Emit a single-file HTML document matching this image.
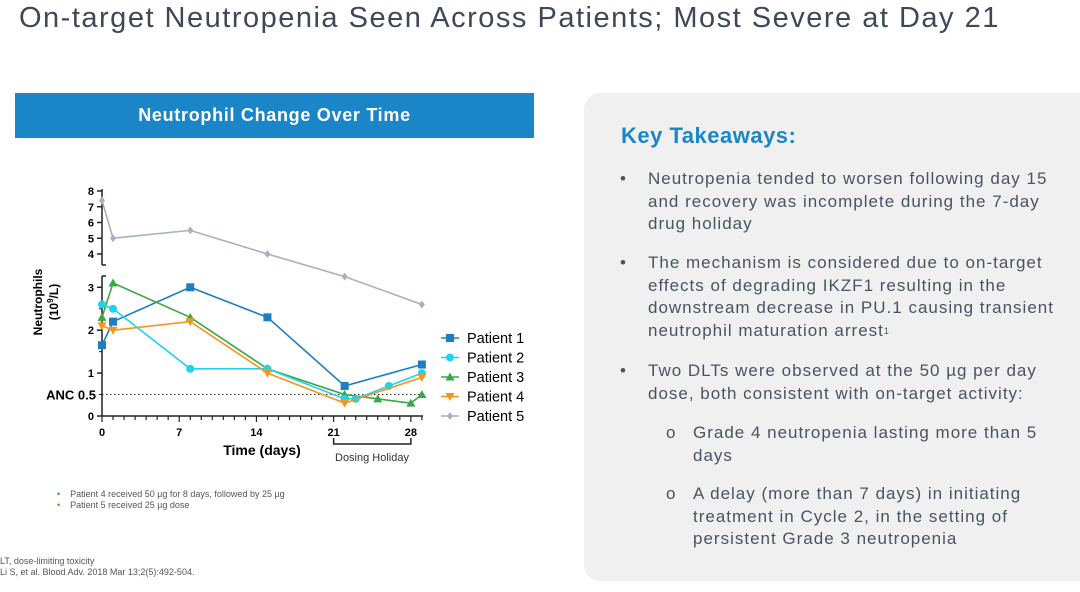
<!DOCTYPE html>
<html><head><meta charset="utf-8">
<style>
body{margin:0;width:1080px;height:592px;background:#fff;position:relative;overflow:hidden;font-family:"Liberation Sans",sans-serif}
.a{position:absolute;white-space:nowrap}
.t{font-size:17px;color:#4a5263;line-height:22.5px;letter-spacing:1px}
sup{font-size:9px;line-height:0;position:relative;top:-2px;vertical-align:baseline}
</style></head><body>
<div class="a" style="left:19px;top:2px;font-size:29px;color:#3f4858;letter-spacing:1.5px">On-target Neutropenia Seen Across Patients; Most Severe at Day 21</div>
<div class="a" style="left:15px;top:93px;width:519px;height:45px;background:#1a86c8;color:#fff;font-weight:bold;font-size:18px;line-height:45px;text-align:center;letter-spacing:0.7px">Neutrophil Change Over Time</div>
<div style="position:absolute;left:584px;top:93px;width:520px;height:488px;background:#f0f0f0;border-radius:16px"></div>
<div class="a" style="left:621px;top:123px;font-size:22px;font-weight:bold;color:#1a86c8;letter-spacing:0.5px">Key Takeaways:</div>
<div class="a t" style="left:620px;top:168px">•<span style="position:absolute;left:28px">Neutropenia tended to worsen following day 15<br>and recovery was incomplete during the 7-day<br>drug holiday</span></div>
<div class="a t" style="left:620px;top:252px">•<span style="position:absolute;left:28px">The mechanism is considered due to on-target<br>effects of degrading IKZF1 resulting in the<br>downstream decrease in PU.1 causing transient<br>neutrophil maturation arrest<sup>1</sup></span></div>
<div class="a t" style="left:620px;top:360px">•<span style="position:absolute;left:28px">Two DLTs were observed at the 50 µg per day<br>dose, both consistent with on-target activity:</span></div>
<div class="a t" style="left:666px;top:422px">o<span style="position:absolute;left:27px">Grade 4 neutropenia lasting more than 5<br>days</span></div>
<div class="a t" style="left:666px;top:483px">o<span style="position:absolute;left:27px">A delay (more than 7 days) in initiating<br>treatment in Cycle 2, in the setting of<br>persistent Grade 3 neutropenia</span></div>
<div class="a" style="left:57px;top:489px;font-size:9px;color:#555;line-height:10.5px"><span style="color:#3a3">•</span>&nbsp;&nbsp;&nbsp;&nbsp;Patient 4 received 50 µg for 8 days, followed by 25 µg<br><span style="color:#3a3">•</span>&nbsp;&nbsp;&nbsp;&nbsp;Patient 5 received 25 µg dose</div>
<div class="a" style="left:0px;top:556px;font-size:9px;color:#555;line-height:10.5px">LT, dose-limiting toxicity<br>Li S, et al. Blood Adv. 2018 Mar 13;2(5):492-504.</div>
<svg id="chart" width="1080" height="592" style="position:absolute;left:0;top:0" font-family="Liberation Sans, sans-serif"></svg>
<script>
const patients=["Patient 1","Patient 2","Patient 3","Patient 4","Patient 5"];
const colors=["#1b7fc0","#1fd3ee","#3aa845","#f7941d","#a8b0c4"];
const days1=[0,1,8,15,22,29];const vals1=[1.65,2.2,3.0,2.3,0.7,1.2];
const days2=[0,1,8,15,22,23,26,29];const vals2=[2.6,2.5,1.1,1.1,0.4,0.4,0.7,1.0];
const days3=[0,1,8,15,22,25,28,29];const vals3=[2.3,3.1,2.3,1.1,0.5,0.4,0.3,0.5];
const days4=[0,1,8,15,22,29];const vals4=[2.1,2.0,2.2,1.0,0.3,0.9];
const days5=[0,1,8,15,22,29];const vals5=[7.4,5.0,5.5,4.0,3.25,2.6];
const lowTicks=[0,1,2,3];const upTicks=[4,5,6,7,8];const xTicks=[0,7,14,21,28];
const NS="http://www.w3.org/2000/svg";const svg=document.getElementById('chart');
function X(d){return 102+d*11.03;}
function Y(v){return v>3.3?254-(v-4)*15.75:416-v*42.9;}
function el(t,a,p){const e=document.createElementNS(NS,t);for(const k in a)e.setAttribute(k,a[k]);(p||svg).appendChild(e);return e;}
function txt(s,a){const e=el('text',a);e.textContent=s;return e;}
let g=el('g',{});


el('line',{x1:102,y1:416,x2:102,y2:276,stroke:'#222','stroke-width':1.5},g);
el('line',{x1:102,y1:265,x2:102,y2:189,stroke:'#222','stroke-width':1.5},g);
el('line',{x1:102,y1:276,x2:106,y2:276,stroke:'#222','stroke-width':1.5},g);
el('line',{x1:102,y1:265,x2:106,y2:265,stroke:'#222','stroke-width':1.5},g);
lowTicks.concat(upTicks).forEach(v=>{el('line',{x1:97,y1:Y(v),x2:102,y2:Y(v),stroke:'#222','stroke-width':1.5},g);
const t=txt(v,{x:94,y:Y(v)+4,'text-anchor':'end','font-size':11,'font-weight':'bold'});});
[0.5,1.5,2.5].forEach(v=>el('line',{x1:99,y1:Y(v),x2:102,y2:Y(v),stroke:'#222'},g));
g=el('g',{});


el('line',{x1:102,y1:416,x2:423,y2:416,stroke:'#222','stroke-width':1.5},g);
for(let d=0;d<=29;d++)el('line',{x1:X(d),y1:416,x2:X(d),y2:xTicks.includes(d)?422:420,stroke:'#222','stroke-width':1.2},g);
xTicks.forEach(d=>{const t=txt(d,{x:X(d),y:436,'text-anchor':'middle','font-size':11,'font-weight':'bold'});});
let t=txt('Time (days)',{x:262,y:455,'text-anchor':'middle','font-size':14,'font-weight':'bold'});


t=el('text',{transform:'translate(42,302) rotate(-90)','text-anchor':'middle','font-size':12,'font-weight':'bold'});
t.innerHTML='<tspan x="0" y="0">Neutrophils</tspan><tspan x="0" y="16">(10<tspan font-size="8" dy="-5">9</tspan><tspan dy="5">/L)</tspan></tspan>';


t=el('path',{d:`M${X(21)} 438 V444 H${X(28)} V438`,fill:'none',stroke:'#222','stroke-width':1.5});


t=txt('Dosing Holiday',{x:372,y:461,'text-anchor':'middle','font-size':11,fill:'#333'});


t=el('line',{x1:102,y1:Y(0.5),x2:423,y2:Y(0.5),stroke:'#333','stroke-dasharray':'1.5 2.5'});


t=txt('ANC 0.5',{x:96,y:Y(0.5)+5,'text-anchor':'end','font-size':13,'font-weight':'bold'});


function marker(i,x,y,p){const c=colors[i];
if(i==0)return el('rect',{x:x-4,y:y-4,width:8,height:8,fill:c},p);
if(i==1)return el('circle',{cx:x,cy:y,r:4,fill:c},p);
if(i==2)return el('path',{d:`M${x} ${y-4.5}L${x+4.5} ${y+3.5}L${x-4.5} ${y+3.5}Z`,fill:c},p);
if(i==3)return el('path',{d:`M${x} ${y+4.5}L${x+4.5} ${y-3.5}L${x-4.5} ${y-3.5}Z`,fill:c},p);
return el('path',{d:`M${x} ${y-4}L${x+3} ${y}L${x} ${y+4}L${x-3} ${y}Z`,fill:c},p);}
const allD=[days1,days2,days3,days4,days5],allV=[vals1,vals2,vals3,vals4,vals5];
[4,0,2,1,3].forEach(i=>{const s=el('g',{});


const pts=allD[i].map((d,j)=>X(d)+','+Y(allV[i][j])).join(' ');
el('polyline',{points:pts,fill:'none',stroke:colors[i],'stroke-width':1.6},s);
allD[i].forEach((d,j)=>{const m=marker(i,X(d),Y(allV[i][j]),s);});});
patients.forEach((p,i)=>{const y=338+i*19.5;const l=el('g',{});


el('line',{x1:441,y1:y,x2:459,y2:y,stroke:colors[i],'stroke-width':1.6},l);marker(i,450,y,l);
const tt=el('text',{x:467,y:y+5,'font-size':14.5},l);tt.textContent=p;});
</script>
</body></html>
